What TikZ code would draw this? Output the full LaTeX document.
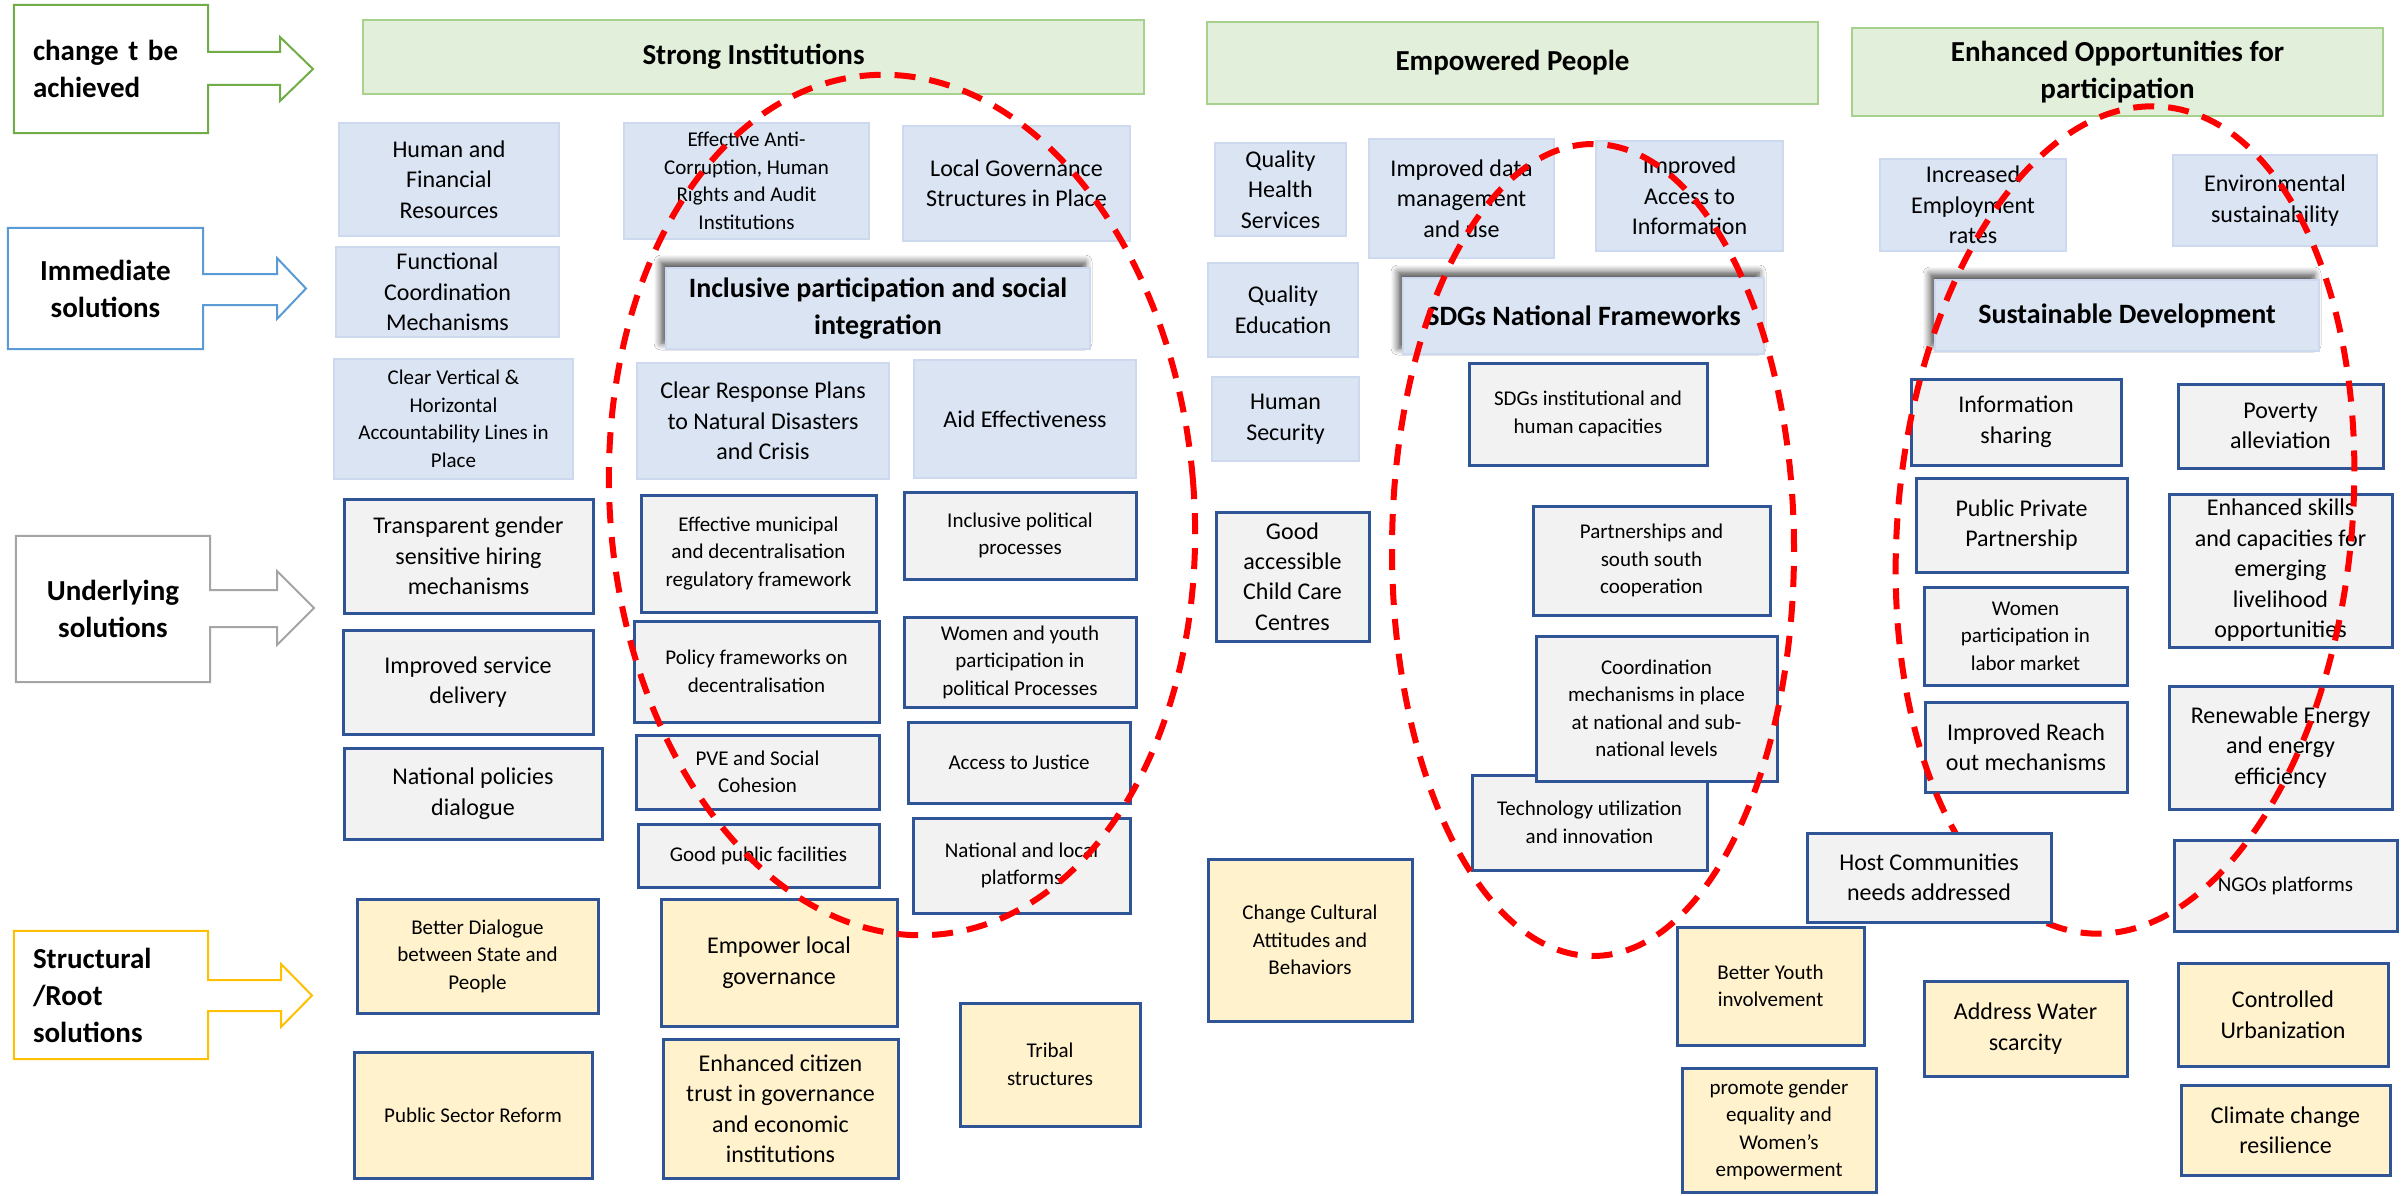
\documentclass[tikz,border=0pt]{standalone}
\usepackage{fontspec}
\setmainfont{Carlito}
\usetikzlibrary{shadows.blur}

\definecolor{hdrfill}{HTML}{E2EFDA}
\definecolor{hdrline}{HTML}{A9D18E}
\definecolor{labgreen}{HTML}{70AD47}
\definecolor{labblue}{HTML}{5B9BD5}
\definecolor{labgray}{HTML}{A5A5A5}
\definecolor{labgold}{HTML}{FFC000}
\definecolor{immfill}{HTML}{DAE4F3}
\definecolor{immline}{HTML}{CCD9EE}
\definecolor{undfill}{HTML}{F2F2F2}
\definecolor{cellline}{HTML}{2F5597}
\definecolor{rootfill}{HTML}{FFF2CC}
\definecolor{ringred}{HTML}{FF0000}

% box given by its corners (x1,y1)-(x2,y2): style, name, x1, y1, x2, y2, text
\newcommand\boxat[7]{%
  \pgfmathsetmacro\bxW{#5-#3}\pgfmathsetmacro\bxH{#6-#4}%
  \pgfmathsetmacro\bxX{(#3+#5)/2}\pgfmathsetmacro\bxY{(#4+#6)/2}%
  \node[#1, minimum width=\bxW pt, minimum height=\bxH pt] (#2) at (\bxX,\bxY) {#7};}

% outline of a level label joined to its block arrow:
% node, colour, shaft top, shaft bottom, head top, head bottom, head x, tip x
\newcommand\labarrow[8]{%
  \pgfmathsetmacro\tipY{(#5+#6)/2}%
  \draw[#2, line width=2pt, line join=miter]
    (#1.north west) -- (#1.north east) -- (#1.east |- 0,#3) -- (#7,#3) -- (#7,#5)
    -- (#8,\tipY) -- (#7,#6) -- (#7,#4) -- (#1.east |- 0,#4)
    -- (#1.south east) -- (#1.south west) -- cycle;}

\begin{document}
\begin{tikzpicture}[x=1pt,y=-1pt,
  every node/.style={inner sep=2pt, align=center, text=black},
  hdr/.style={fill=hdrfill, draw=hdrline, line width=2pt, font=\bfseries\fontsize{29}{37}\selectfont},
  labtxt/.style={font=\bfseries\fontsize{29}{37}\selectfont, inner sep=0pt},
  imm/.style={fill=immfill, draw=immline, line width=2pt},
  und/.style={fill=undfill, draw=cellline, line width=3pt},
  root/.style={fill=rootfill, draw=cellline, line width=3pt},
  big/.style={font=\fontsize{24}{30.5}\selectfont},
  sml/.style={font=\fontsize{21}{27.5}\selectfont},
  ttl/.style={font=\bfseries\fontsize{28}{37}\selectfont,
    blur shadow={shadow xshift=-5pt, shadow yshift=6pt, shadow blur radius=7pt,
      shadow blur steps=8, shadow opacity=70}},
  ring/.style={draw=ringred, line width=6pt, dash pattern=on 21pt off 14pt}]

\fill[white] (0,0) rectangle (2407,1196);
\useasboundingbox (0,0) rectangle (2407,1196);

% level labels with their block arrows
\node[labtxt, text width=156pt, align=left, minimum width=194pt, minimum height=128pt] (lab1) at (111,69) {change t be\\achieved};
\node[labtxt, minimum width=195pt, minimum height=121pt] (lab2) at (105.5,288.5) {Immediate\\solutions};
\node[labtxt, minimum width=194pt, minimum height=146pt] (lab3) at (113,609) {Underlying\\solutions};
\node[labtxt, text width=156pt, align=left, minimum width=194pt, minimum height=128pt] (lab4) at (111,995) {Structural\\/Root\\solutions};
\labarrow{lab1}{labgreen}{52}{85}{37}{101}{280}{313}
\labarrow{lab2}{labblue}{274}{305}{258}{319}{277}{306}
\labarrow{lab3}{labgray}{590}{627}{571}{645}{277}{314}
\labarrow{lab4}{labgold}{980}{1011}{964}{1027}{281}{312}

% outcome headers
\boxat{hdr}{hsi}{363}{20}{1144}{94}{Strong Institutions}
\boxat{hdr}{hep}{1207}{22}{1818}{104}{Empowered People}
\boxat{hdr}{heo}{1852}{28}{2383}{116}{Enhanced Opportunities for\\participation}

% Strong Institutions: immediate
\boxat{imm,big}{hfr}{339}{123}{559}{236}{Human and\\Financial\\Resources}
\boxat{imm,sml}{eac}{624}{123}{869}{239}{Effective Anti-\\Corruption, Human\\Rights and Audit\\Institutions}
\boxat{imm,big}{lgs}{903}{126}{1130}{241}{Local Governance\\Structures in Place}
\boxat{imm,big}{fcm}{336}{247}{559}{337}{Functional\\Coordination\\Mechanisms}
\boxat{imm,ttl}{ips}{666}{268}{1090}{349}{Inclusive participation and social\\integration}
\boxat{imm,sml}{cvh}{334}{359}{573}{479}{Clear Vertical \&\\Horizontal\\Accountability Lines in\\Place}
\boxat{imm,big}{crp}{637}{363}{889}{479}{Clear Response Plans\\to Natural Disasters\\and Crisis}
\boxat{imm,big}{aid}{914}{360}{1136}{478}{Aid Effectiveness}

% Strong Institutions: underlying
\boxat{und,big}{tgs}{344}{499}{593}{613}{Transparent gender\\sensitive hiring\\mechanisms}
\boxat{und,sml}{emd}{641}{495}{876}{612}{Effective municipal\\and decentralisation\\regulatory framework}
\boxat{und,sml}{ipp}{904}{492}{1136}{579}{Inclusive political\\processes}
\boxat{und,big}{isd}{343}{630}{593}{734}{Improved service\\delivery}
\boxat{und,sml}{pfd}{634}{621}{879}{722}{Policy frameworks on\\decentralisation}
\boxat{und,sml}{wyp}{904}{617}{1136}{707}{Women and youth\\participation in\\political Processes}
\boxat{und,big}{npd}{344}{748}{602}{839}{National policies\\dialogue}
\boxat{und,sml}{pve}{636}{735}{879}{809}{PVE and Social\\Cohesion}
\boxat{und,sml}{atj}{908}{722}{1130}{803}{Access to Justice}
\boxat{und,sml}{gpf}{638}{824}{879}{887}{Good public facilities}
\boxat{und,sml}{nlp}{913}{818}{1130}{913}{National and local\\platforms}

% Strong Institutions: structural / root
\boxat{root,sml}{bds}{357}{899}{598}{1013}{Better Dialogue\\between State and\\People}
\boxat{root,big}{elg}{661}{899}{897}{1026}{Empower local\\governance}
\boxat{root,sml}{psr}{354}{1052}{592}{1178}{Public Sector Reform}
\boxat{root,big}{ect}{663}{1039}{898}{1178}{Enhanced citizen\\trust in governance\\and economic\\institutions}
\boxat{root,sml}{tri}{960}{1003}{1140}{1126}{Tribal\\structures}

% Empowered People
\boxat{imm,big}{qhs}{1215}{143}{1346}{236}{Quality\\Health\\Services}
\boxat{imm,big}{idm}{1369}{139}{1554}{258}{Improved data\\management\\and use}
\boxat{imm,big}{iai}{1596}{141}{1783}{251}{Improved\\Access to\\Information}
\boxat{imm,big}{qed}{1208}{263}{1358}{357}{Quality\\Education}
\boxat{imm,ttl}{sdg}{1403}{278}{1764}{354}{SDGs National Frameworks}
\boxat{imm,big}{hse}{1212}{377}{1359}{461}{Human\\Security}
\boxat{und,sml}{sic}{1469}{363}{1707}{465}{SDGs institutional and\\human capacities}
\boxat{und,big}{gcc}{1216}{512}{1369}{641}{Good\\accessible\\Child Care\\Centres}
\boxat{und,sml}{pss}{1533}{506}{1770}{615}{Partnerships and\\south south\\cooperation}
\boxat{und,sml}{tui}{1472}{775}{1707}{870}{Technology utilization\\and innovation}
\boxat{und,sml}{cmp}{1536}{636}{1777}{781}{Coordination\\mechanisms in place\\at national and sub-\\national levels}
\boxat{root,sml}{cca}{1208}{859}{1412}{1021}{Change Cultural\\Attitudes and\\Behaviors}
\boxat{root,sml}{byi}{1677}{927}{1864}{1045}{Better Youth\\involvement}
\boxat{root,sml}{pge}{1682}{1068}{1876}{1192}{promote gender\\equality and\\Women’s\\empowerment}

% Enhanced Opportunities for participation
\boxat{imm,big}{iem}{1880}{159}{2066}{251}{Increased\\Employment\\rates}
\boxat{imm,big}{ens}{2173}{155}{2377}{246}{Environmental\\sustainability}
\boxat{imm,ttl}{sud}{1935}{280}{2319}{351}{Sustainable Development}
\boxat{und,big}{ish}{1911}{379}{2121}{465}{Information\\sharing}
\boxat{und,big}{pal}{2178}{384}{2383}{468}{Poverty\\alleviation}
\boxat{und,big}{ppp}{1916}{478}{2127}{572}{Public Private\\Partnership}
\boxat{und,big}{esc}{2169}{494}{2392}{647}{Enhanced skills\\and capacities for\\emerging\\livelihood\\opportunities}
\boxat{und,sml}{wlm}{1924}{587}{2127}{685}{Women\\participation in\\labor market}
\boxat{und,big}{iro}{1925}{702}{2127}{792}{Improved Reach\\out mechanisms}
\boxat{und,big}{ree}{2169}{686}{2392}{809}{Renewable Energy\\and energy\\efficiency}
\boxat{und,sml}{ngo}{2174}{840}{2397}{931}{NGOs platforms}
\boxat{root,big}{aws}{1924}{981}{2127}{1076}{Address Water\\scarcity}
\boxat{root,big}{cur}{2178}{963}{2388}{1066}{Controlled\\Urbanization}
\boxat{root,big}{ccr}{2181}{1085}{2390}{1175}{Climate change\\resilience}

% dashed rings around the three focus clusters
\draw[ring, rotate around={4.6:(902,505)}] (902,505) ellipse [x radius=292pt, y radius=431pt];
\draw[ring] (1593,550) ellipse [x radius=201pt, y radius=406pt];
\draw[ring, rotate around={-5.4:(2125,520)}] (2125,520) ellipse [x radius=227pt, y radius=415pt];

% this box sits above the right ring
\boxat{und,big}{hcn}{1807}{833}{2051}{922}{Host Communities\\needs addressed}
\end{tikzpicture}
\end{document}
